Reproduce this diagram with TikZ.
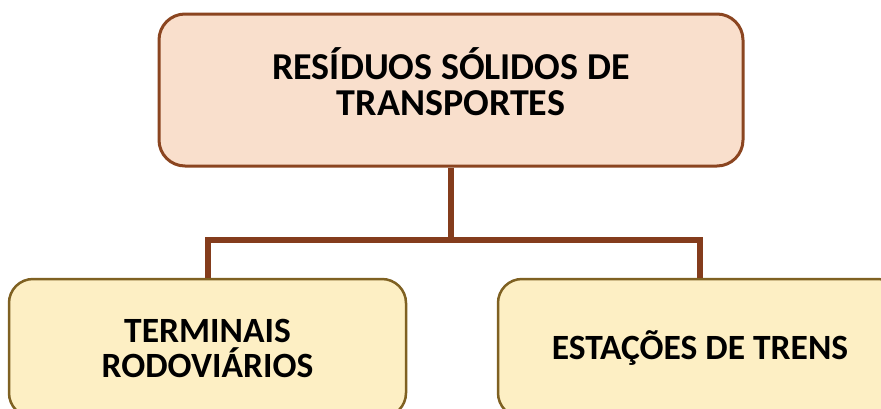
\documentclass[tikz,border=0pt]{standalone}
\usepackage{fontspec}
\setmainfont{Carlito}
\definecolor{topfill}{HTML}{F9DFCC}
\definecolor{topline}{HTML}{8B4520}
\definecolor{botfill}{HTML}{FDEFC4}
\definecolor{botline}{HTML}{7F6122}
\definecolor{connc}{HTML}{843C1C}
\tikzset{
  topbox/.style={draw=topline, fill=topfill, line width=3pt, rounded corners=26pt, inner sep=0pt},
  toptext/.style={align=center, inner sep=0pt, font=\bfseries\fontsize{38}{36}\selectfont},
  botbox/.style={draw=botline, fill=botfill, line width=2.5pt, rounded corners=24pt, align=center, inner sep=0pt,
    font=\bfseries\fontsize{35.5}{35}\selectfont},
  conn/.style={draw=connc, line width=6pt}
}
\begin{document}
\begin{tikzpicture}[x=1pt,y=1pt]
\useasboundingbox (0,0) rectangle (881,-408);
\clip (0,0) rectangle (881,-408);
\node[topbox, minimum width=584pt, minimum height=152pt] (top) at (451,-90) {};
\node[toptext] (toplabel) at (451,-82) {RESÍDUOS SÓLIDOS DE\\TRANSPORTES};
\node[botbox, minimum width=397pt, minimum height=138pt] (left) at (207.5,-348) {TERMINAIS\\RODOVIÁRIOS};
\node[botbox, minimum width=404pt, minimum height=138pt] (right) at (700,-348) {ESTAÇÕES DE TRENS};
\coordinate (j) at (451,-240);
\draw[conn] (top.south) -- (j);
\draw[conn] (left.north) |- (j) -| (right.north);
\end{tikzpicture}
\end{document}
